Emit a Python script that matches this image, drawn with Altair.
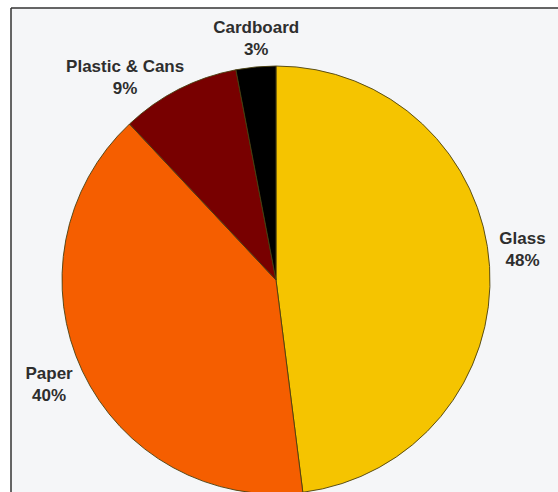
import altair as alt
import pandas as pd

categories = ["Glass", "Paper", "Plastic & Cans", "Cardboard"]
values = [48, 40, 9, 3]
colors = ["#F5C400", "#F55E00", "#780000", "#000000"]

df = pd.DataFrame({
    "category": categories,
    "value": values,
    "idx": list(range(len(categories))),
})
df["label"] = df["category"] + "\n" + df["value"].astype(str) + "%"

W, H = 547, 484
CX, CY = 265, 272  # pie center relative to view origin (padding left 11, top 8)

# label nudges (pixels) relative to the label circle
label_nudge = {
    "Glass": (-6, -25),
    "Paper": (2, -14),
    "Plastic & Cans": (-36, 12),
    "Cardboard": (4, 0),
}

pie = alt.Chart(df).mark_arc(radius=214, stroke="#4a3f10", strokeWidth=0.9).encode(
    theta=alt.Theta("value:Q", stack=True),
    order=alt.Order("idx:Q", sort="ascending"),
    color=alt.Color("category:N", scale=alt.Scale(domain=categories, range=colors), legend=None),
    x=alt.value(CX), y=alt.value(CY),
)

text_kw = dict(radius=253, lineBreak="\n", font="Liberation Sans", fontWeight="bold",
               fontSize=17, lineHeight=22, color="#2e2e2e", baseline="middle", align="center")

lbl_base = alt.Chart(df).transform_stack(
    stack="value", groupby=[], as_=["v0", "v1"], sort=[alt.SortField("idx", order="ascending")]
).transform_calculate(mid="(datum.v0 + datum.v1) / 2")

label_layers = []
for cat in categories:
    ddx, ddy = label_nudge[cat]
    label_layers.append(
        lbl_base.transform_filter(alt.datum.category == cat).mark_text(dx=ddx, dy=ddy, **text_kw).encode(
            theta=alt.Theta("mid:Q", stack=None),
            text="label:N", x=alt.value(CX), y=alt.value(CY),
        )
    )

frame = alt.Chart(df.head(1))
top_rule = frame.mark_rule(color="#333333", strokeWidth=1.5).encode(
    x=alt.value(0), x2=alt.value(W), y=alt.value(0))
left_rule = frame.mark_rule(color="#333333", strokeWidth=1.5).encode(
    x=alt.value(0), y=alt.value(0), y2=alt.value(H))

chart = alt.layer(pie, *label_layers, top_rule, left_rule).properties(
    width=W, height=H,
    padding={"left": 11, "top": 8, "right": 0, "bottom": 0},
    autosize=alt.AutoSizeParams(type="none"),
    background="#ffffff",
).configure_view(fill="#f5f6f8", stroke=None)

chart.save("out.html", embed_options={"renderer": "svg", "actions": False})
